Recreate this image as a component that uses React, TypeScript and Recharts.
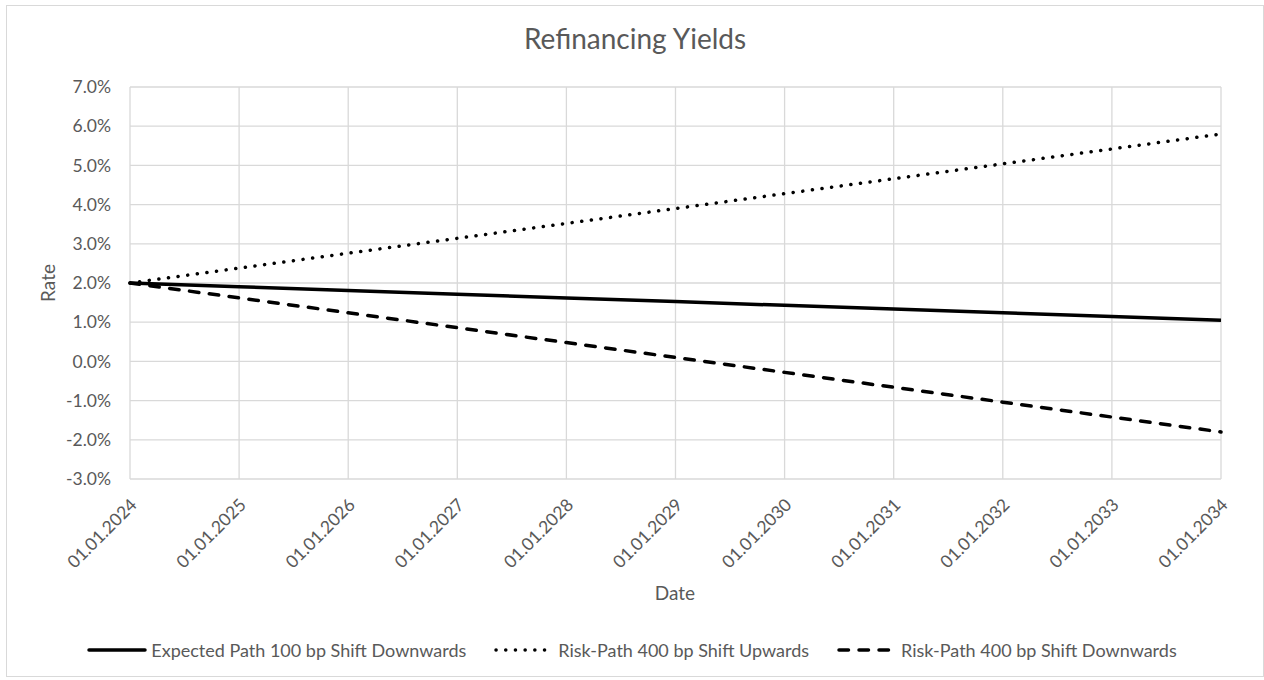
import React from 'react';
import { LineChart, Line, XAxis, YAxis, CartesianGrid, Legend } from 'recharts';

const dates = [
    '01.01.2024', '01.01.2025', '01.01.2026', '01.01.2027', '01.01.2028', '01.01.2029',
    '01.01.2030', '01.01.2031', '01.01.2032', '01.01.2033', '01.01.2034',
];
// rates in percent
const expectedDown = [2.0, 1.905, 1.81, 1.715, 1.62, 1.525, 1.43, 1.335, 1.24, 1.145, 1.05];
const riskUp = [2.0, 2.38, 2.76, 3.14, 3.52, 3.9, 4.28, 4.66, 5.04, 5.42, 5.8];
const riskDown = [2.0, 1.62, 1.24, 0.86, 0.48, 0.1, -0.28, -0.66, -1.04, -1.42, -1.8];
const rateTicks = [-3, -2, -1, 0, 1, 2, 3, 4, 5, 6, 7];

const seriesNames = {
    expected: 'Expected Path 100 bp Shift Downwards',
    up: 'Risk-Path 400 bp Shift Upwards',
    down: 'Risk-Path 400 bp Shift Downwards',
};

const data = dates.map((date, i) => ({
    date,
    expected: expectedDown[i],
    up: riskUp[i],
    down: riskDown[i],
}));

const FONT = 'Lato, "Open Sans", sans-serif';
const TEXT = '#595959';
const GRID = '#d9d9d9';

const DateTick = (props: any) => {
    const { x, y, payload } = props;
    const ax = x + 8;
    const ay = y + 27;
    return (
        <text x={ax} y={ay} textAnchor="end" fill={TEXT} fontSize={17.5} fontFamily={FONT}
            transform={`rotate(-45, ${ax}, ${ay})`}>
            {payload.value}
        </text>
    );
};

const LegendContent = () => {
    const items = [
        { key: 'expected', dash: undefined },
        { key: 'up', dash: '0.1 9.6' },
        { key: 'down', dash: '9.5 10.5' },
    ];
    return (
        <div style={{ display: 'flex', justifyContent: 'center', alignItems: 'center', gap: 28 }}>
            {items.map(it => (
                <div key={it.key} style={{ display: 'flex', alignItems: 'center' }}>
                    <svg width={60} height={10} style={{ marginRight: 4 }}>
                        <line x1={2} y1={5} x2={58} y2={5} stroke="#000" strokeWidth={3.5}
                            strokeLinecap="round" strokeDasharray={it.dash} />
                    </svg>
                    <span style={{ fontFamily: FONT, fontSize: 18, color: TEXT }}>
                        {(seriesNames as any)[it.key]}
                    </span>
                </div>
            ))}
        </div>
    );
};

export default function App() {
    return (
        <div style={{ position: 'absolute', left: 0, top: 0, width: 1264, height: 680, background: '#fff' }}>
            <div style={{ position: 'absolute', left: 6, top: 5, width: 1256, height: 670, border: `1px solid ${GRID}` }} />
            <div style={{
                position: 'absolute', left: 6, top: 21, width: 1258, textAlign: 'center',
                fontFamily: FONT, fontSize: 28, color: TEXT,
            }}>
                Refinancing Yields
            </div>
            <div style={{ position: 'absolute', left: 0, top: 0 }}>
                <LineChart width={1264} height={680} data={data}
                    margin={{ top: 87, right: 43, bottom: 71, left: 0 }}>
                    <CartesianGrid stroke={GRID} strokeWidth={1.3} />
                    <XAxis dataKey="date" axisLine={false} tickLine={false} tickSize={0} tickMargin={0}
                        height={130} interval={0} tick={<DateTick />}
                        label={{
                            value: 'Date',
                            content: () => (
                                <text x={675} y={600} textAnchor="middle" fill={TEXT} fontSize={19} fontFamily={FONT}>
                                    Date
                                </text>
                            ),
                        }} />
                    <YAxis domain={[-3, 7]} ticks={rateTicks} width={130} axisLine={false} tickLine={false}
                        tickSize={0} tickMargin={19} interval={0}
                        tickFormatter={(v: number) => `${v.toFixed(1)}%`}
                        tick={{ fill: TEXT, fontSize: 17.5, fontFamily: FONT }}
                        label={{
                            value: 'Rate',
                            content: () => (
                                <text x={47} y={283} textAnchor="middle" dominantBaseline="central" fill={TEXT}
                                    fontSize={19} fontFamily={FONT} transform="rotate(-90, 47, 283)">
                                    Rate
                                </text>
                            ),
                        }} />
                    <Line dataKey="expected" name={seriesNames.expected} stroke="#000" strokeWidth={3.5}
                        dot={false} activeDot={false} isAnimationActive={false} />
                    <Line dataKey="up" name={seriesNames.up} stroke="#000" strokeWidth={3.5}
                        strokeDasharray="0.1 9.6" strokeLinecap="round"
                        dot={false} activeDot={false} isAnimationActive={false} />
                    <Line dataKey="down" name={seriesNames.down} stroke="#000" strokeWidth={3.5}
                        strokeDasharray="9.5 10.5" strokeLinecap="round"
                        dot={false} activeDot={false} isAnimationActive={false} />
                    <Legend verticalAlign="middle" layout="horizontal" content={<LegendContent />}
                        wrapperStyle={{ position: 'absolute', top: 639, left: 0, width: 1264, height: 24 }} />
                </LineChart>
            </div>
        </div>
    );
}
